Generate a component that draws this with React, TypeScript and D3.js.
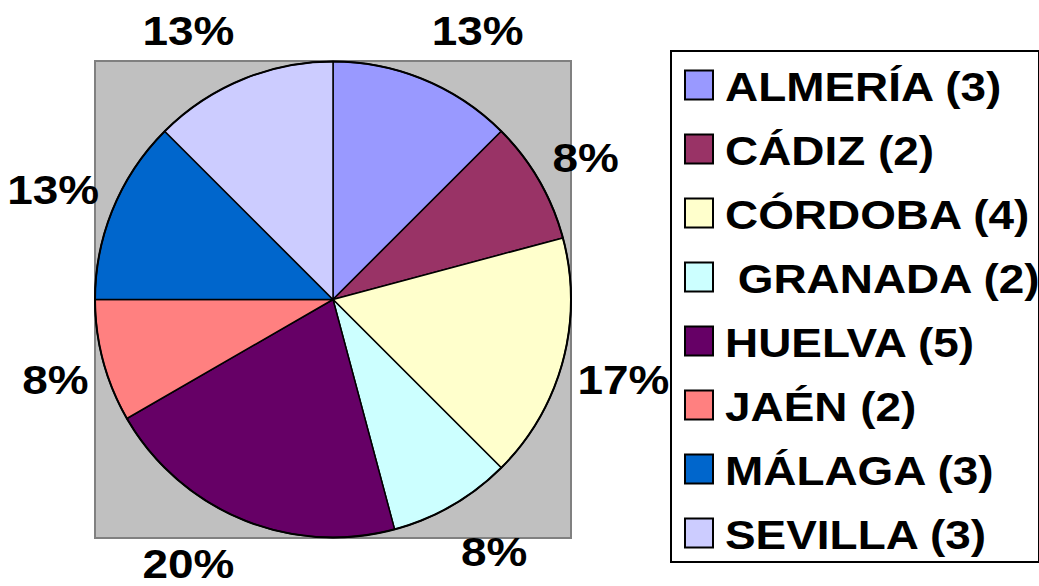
import React from "react";
import * as d3 from "d3";

const categories = ["ALMERÍA", "CÁDIZ", "CÓRDOBA", " GRANADA", "HUELVA", "JAÉN", "MÁLAGA", "SEVILLA"];
const values = [3, 2, 4, 2, 5, 2, 3, 3];
const percentLabels = ["13%", "8%", "17%", "8%", "20%", "8%", "13%", "13%"];
const colors = ["#9999FF", "#993366", "#FFFFCC", "#CCFFFF", "#660066", "#FF8080", "#0066CC", "#CCCCFF"];

const W = 1039;
const H = 586;
const cx = 333;
const cy = 299.5;
const R = 238;
const FONT = "'Liberation Sans', Arial, sans-serif";
const FS = 41;
const SX = 1.12;
const CAP = FS * 0.716;

export default function App() {
  const pie = d3.pie<number>().sort(null).value((d) => d);
  const arcs = pie(values);
  const arcGen = d3.arc<d3.PieArcDatum<number>>().innerRadius(0).outerRadius(R);

  const labels = arcs.map((a, i) => {
    const mid = (a.startAngle + a.endAngle) / 2;
    const s = Math.sin(mid);
    const c = Math.cos(mid);
    const D = 250;
    const px = 3;
    const py = Math.max(0, 24 * (Math.abs(c) - 0.45) / 0.474);
    const sxn = s >= 0 ? 1 : -1;
    const above = c > 0;
    const x = cx + D * s + px * sxn;
    const yCorner = cy - D * c + (above ? -py : py);
    const y = Math.min(above ? yCorner : yCorner + CAP, H - 8);
    return { x, y, anchor: s >= 0 ? "start" : "end", text: percentLabels[i] };
  });

  const legendY0 = 85;
  const legendStep = 64;

  return (
    <svg
      width={W}
      height={H}
      style={{ position: "absolute", left: 0, top: 0, background: "#ffffff" }}
    >
      <rect x={95} y={61} width={476} height={477} fill="#C0C0C0" stroke="#808080" strokeWidth={2} />
      <g transform={`translate(${cx},${cy})`}>
        {arcs.map((a, i) => (
          <path key={i} d={arcGen(a) || ""} fill={colors[i]} stroke="#000" strokeWidth={1.5} strokeLinejoin="round" />
        ))}
        <circle r={R} fill="none" stroke="#000" strokeWidth={2} />
      </g>
      {labels.map((l, i) => (
        <text
          key={i}
          transform={`translate(${l.x},${l.y}) scale(${SX},1)`}
          textAnchor={l.anchor}
          fontFamily={FONT}
          fontWeight="bold"
          fontSize={FS}
          fill="#000"
        >
          {l.text}
        </text>
      ))}
      <rect x={671} y={51} width={368} height={511} fill="#fff" stroke="#000" strokeWidth={2} />
      {categories.map((cat, i) => {
        const yc = legendY0 + i * legendStep;
        return (
          <g key={i}>
            <rect x={685} y={yc - 14.5} width={28} height={29} fill={colors[i]} stroke="#000" strokeWidth={2} />
            <text
              transform={`translate(725,${yc + 16}) scale(${SX},1)`}
              fontFamily={FONT}
              fontWeight="bold"
              fontSize={FS}
              fill="#000"
              style={{ whiteSpace: "pre" }}
              xmlSpace="preserve"
            >
              {`${cat} (${values[i]})`}
            </text>
          </g>
        );
      })}
    </svg>
  );
}
